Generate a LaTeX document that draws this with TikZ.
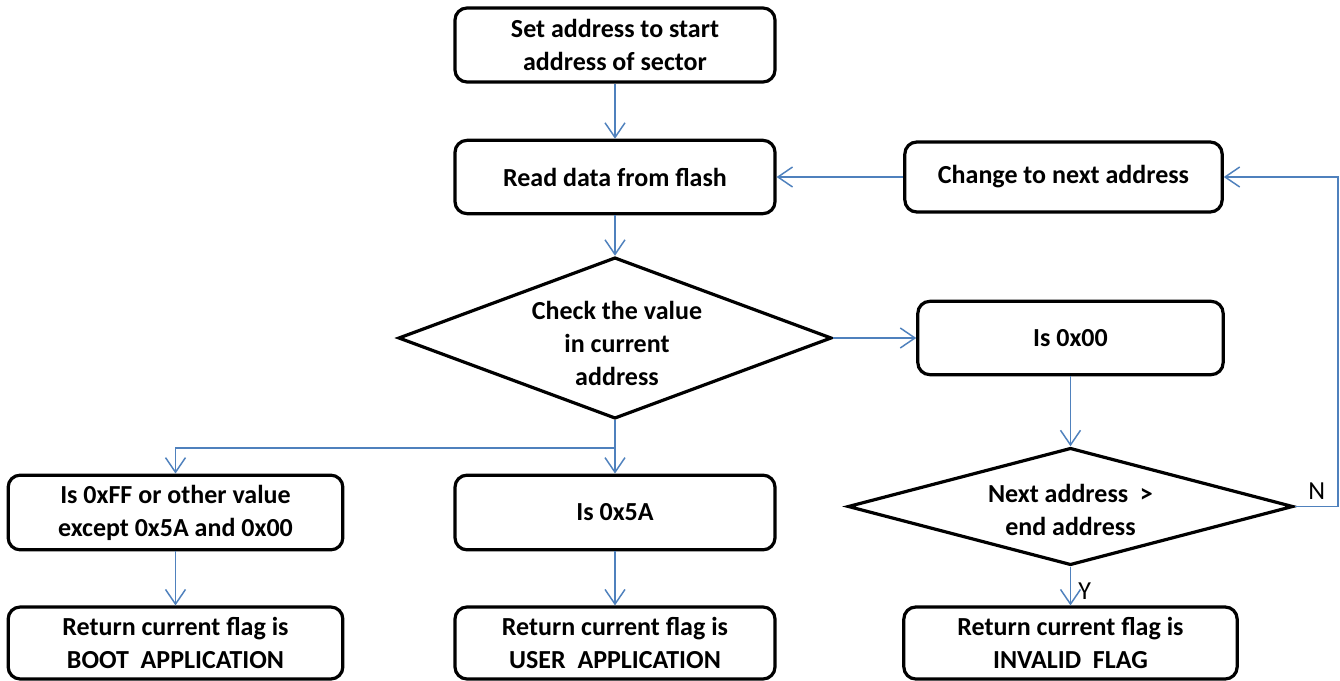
\documentclass[tikz,border=0pt]{standalone}
\usepackage{fontspec}
\setmainfont{Carlito}
\usetikzlibrary{arrows.meta,shapes.geometric}
\definecolor{lineblue}{HTML}{4F81BD}
\begin{document}
\begin{tikzpicture}[x=0.75pt,y=-0.75pt,
  every node/.style={font=\fontsize{19.5}{24.75}\selectfont\bfseries},
  box/.style={draw=black,line width=2.4pt,rounded corners=9pt,fill=white,align=center,inner sep=0pt},
  dia/.style={draw=black,line width=2.4pt,diamond,inner sep=0pt,fill=white},
  txt/.style={align=center,inner sep=0pt},
  arr/.style={draw=lineblue,line width=1.1pt,-{Straight Barb[length=11pt,width=15pt,line width=1.1pt]}},
  lbl/.style={font=\fontsize{19.5}{24}\selectfont\mdseries,inner sep=0pt}]
\useasboundingbox (0,0) rectangle (1340,681);
\fill[white] (0,0) rectangle (1340,681);

\node[box,minimum width=240pt,minimum height=55.5pt] (start) at (615,45) {Set address to start\\address of sector};
\node[box,minimum width=240pt,minimum height=55pt] (read) at (615,177) {Read data from flash};
\node[box,minimum width=238pt,minimum height=52.5pt] (change) at (1063.5,177) {Change to next address};
\node[dia,minimum width=325pt,minimum height=121pt] (check) at (615,338) {};
\node[txt] at (617,343) {Check the value\\in current\\address};
\node[box,minimum width=229pt,minimum height=55pt] (is00) at (1070.5,338) {Is 0x00};
\node[dia,minimum width=334pt,minimum height=88pt] (next) at (1070.5,506.5) {};
\node[txt] at (1070.5,510) {Next address\ \ >\\end address};
\node[box,minimum width=251pt,minimum height=56pt] (isff) at (175.5,512.5) {Is 0xFF or other value\\except 0x5A and 0x00};
\node[box,minimum width=240pt,minimum height=56pt] (is5a) at (615,512.5) {Is 0x5A};
\node[box,minimum width=251pt,minimum height=54pt] (boot) at (175.5,643) {Return current flag is\\BOOT\ \ APPLICATION};
\node[box,minimum width=240pt,minimum height=54pt] (user) at (615,643) {Return current flag is\\USER\ \ APPLICATION};
\node[box,minimum width=250pt,minimum height=54pt] (inval) at (1070.5,643) {Return current flag is\\INVALID\ \ FLAG};

\coordinate (split) at (615,448);
\coordinate (rc) at (1338,0);

\draw[arr] (start.south) -- (read.north);
\draw[arr] (read.south) -- (check.north);
\draw[arr] (change.west) -- (read.east);
\draw[arr] (check.east) -- (is00.west);
\draw[arr] (is00.south) -- (next.north);
\draw[arr] (check.south) -- (is5a.north);
\draw[arr] (split) -| (isff.north);
\draw[arr] (isff.south) -- (boot.north);
\draw[arr] (is5a.south) -- (user.north);
\draw[arr] (next.south) -- (inval.north);
\draw[arr] (next.east) -- (rc |- next.east) -- (rc |- change.east) -- (change.east);

\node[lbl,anchor=south west] (nl) at (1308,500) {N};
\node[lbl,anchor=west] (yl) at (1078,591) {Y};
\end{tikzpicture}
\end{document}
